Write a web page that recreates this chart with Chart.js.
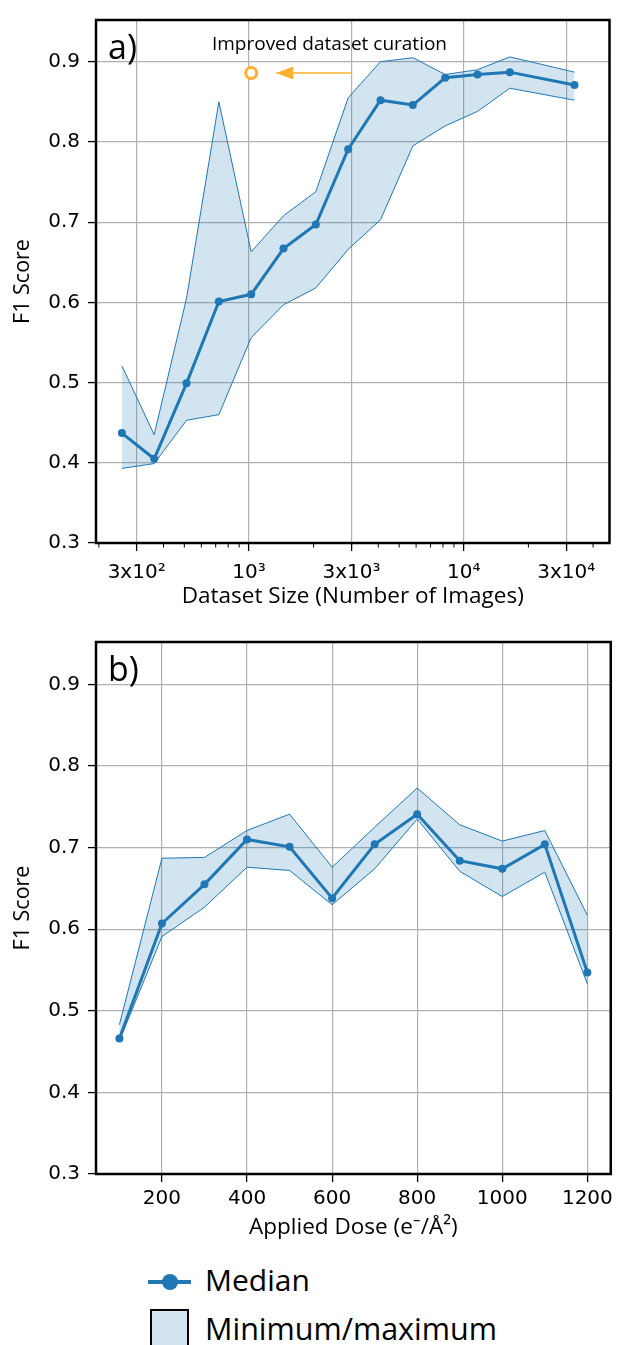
<!DOCTYPE html>
<html>
<head>
<meta charset="utf-8">
<script src="https://cdn.jsdelivr.net/npm/chart.js@4.4.0/dist/chart.umd.min.js"></script>
<style>
  html, body { margin: 0; padding: 0; background: #fff; overflow: hidden; }
  #wrap { position: relative; width: 618px; height: 1345px; }
  canvas { position: absolute; left: 0; }
  #c1 { top: 0; }
  #c2 { top: 620px; }
  .leg { position: absolute; font-family: "Open Sans"; font-size: 30px; line-height: 30px; color: #000; white-space: nowrap; }
</style>
</head>
<body>
<div id="wrap">
  <canvas id="c1" width="618" height="620"></canvas>
  <canvas id="c2" width="618" height="630"></canvas>

  <!-- legend -->
  <div style="position:absolute;left:148px;top:1280px;width:43px;height:4px;background:#1f77b4"></div>
  <div style="position:absolute;left:162px;top:1274px;width:16px;height:16px;border-radius:50%;background:#1f77b4"></div>
  <div class="leg" style="left:205px;top:1265px">Median</div>
  <div style="position:absolute;left:150px;top:1309px;width:35px;height:40px;border:2.5px solid #000;background:#d2e4f0"></div>
  <div class="leg" style="left:205px;top:1313px;font-size:30.5px">Minimum/maximum</div>
</div>
<script>
// a) dataset size
const sizes = [256, 362, 512, 724, 1024, 1448, 2048, 2896, 4096, 5793, 8192, 11585, 16384, 32768];
const sizeMedian = [0.437, 0.405, 0.499, 0.601, 0.610, 0.667, 0.697, 0.791, 0.852, 0.846, 0.880, 0.884, 0.887, 0.871];
const sizeMax = [0.521, 0.435, 0.605, 0.850, 0.663, 0.708, 0.738, 0.855, 0.900, 0.905, 0.884, 0.890, 0.906, 0.887];
const sizeMin = [0.393, 0.399, 0.453, 0.460, 0.556, 0.597, 0.618, 0.666, 0.703, 0.795, 0.820, 0.838, 0.867, 0.852];

// b) applied dose
const doses = [100, 200, 300, 400, 500, 600, 700, 800, 900, 1000, 1100, 1200];
const doseMedian = [0.466, 0.607, 0.655, 0.710, 0.701, 0.638, 0.704, 0.741, 0.684, 0.674, 0.704, 0.547];
const doseMax = [0.483, 0.687, 0.688, 0.721, 0.741, 0.676, 0.725, 0.773, 0.728, 0.708, 0.721, 0.617];
const doseMin = [0.463, 0.591, 0.627, 0.676, 0.672, 0.630, 0.674, 0.735, 0.671, 0.640, 0.670, 0.533];

// ticks
const yTicks = [0.3, 0.4, 0.5, 0.6, 0.7, 0.8, 0.9];
const sizeTicks = [300, 1000, 3000, 10000, 30000];
const sizeTickLabels = ["3x10\u00b2", "10\u00b3", "3x10\u00b3", "10\u2074", "3x10\u2074"];
const sizeMinorTicks = [200, 400, 500, 600, 700, 800, 900, 2000, 4000, 5000, 6000, 7000, 8000, 9000, 20000, 40000];
const doseTicks = [200, 400, 600, 800, 1000, 1200];

// annotation "Improved dataset curation"
const curationPoint = [{ x: 1024, y: 0.886 }];
const curationArrow = [{ x: 2980, y: 0.886 }, { x: 1340, y: 0.886 }];
const curationText = { x: 2370, y: 0.921, text: "Improved dataset curation" };

const blue = "#1f77b4";
const orange = "#fdb02f";
const band = "rgba(31,119,180,0.2)";
const gridCol = "#b0b0b0";

const pts = (xs, ys) => xs.map((x, i) => ({ x: x, y: ys[i] }));

function bandSets(xs, med, mx, mn) {
  return [
    { data: pts(xs, med), borderColor: blue, backgroundColor: blue, borderWidth: 3,
      pointRadius: 4, pointBorderWidth: 0, pointBackgroundColor: blue, fill: false },
    { data: pts(xs, mx), borderColor: blue, borderWidth: 1, pointRadius: 0,
      fill: "+1", backgroundColor: band },
    { data: pts(xs, mn), borderColor: blue, borderWidth: 1, pointRadius: 0, fill: false }
  ];
}

function yScale() {
  return {
    min: 0.3, max: 0.952,
    afterBuildTicks: s => { s.ticks = yTicks.map(v => ({ value: v })); },
    afterFit: s => { s.width = 96; },
    ticks: { font: { family: "DejaVu Sans", size: 20 }, color: "#000", padding: 8,
      callback: v => v.toFixed(1) },
    grid: { color: gridCol, lineWidth: 1.2, tickColor: "#000", tickLength: 8, tickWidth: 1.3 },
    border: { display: false },
    title: { display: true, text: "F1 Score", color: "#000",
      font: { family: "Open Sans", size: 21.5 }, padding: { top: 10, bottom: 0 } }
  };
}

// frame, panel letter and minor ticks
function framePlugin(letter, minor) {
  return {
    id: "frame",
    afterDraw(chart) {
      const { ctx, chartArea: a } = chart;
      ctx.save();
      if (minor) {
        const x = chart.scales.x;
        ctx.strokeStyle = "#000";
        ctx.lineWidth = 1;
        minor.forEach(v => {
          const px = x.getPixelForValue(v);
          if (px < a.left || px > a.right) return;
          ctx.beginPath();
          ctx.moveTo(px, a.bottom);
          ctx.lineTo(px, a.bottom + 4.5);
          ctx.stroke();
        });
      }
      ctx.strokeStyle = "#000";
      ctx.lineWidth = 2.5;
      ctx.strokeRect(a.left, a.top, a.right - a.left, a.bottom - a.top);
      ctx.fillStyle = "#000";
      ctx.font = "34px 'Open Sans'";
      ctx.textBaseline = "alphabetic";
      ctx.fillText(letter, a.left + 12, a.top + 39);
      ctx.restore();
    }
  };
}

const arrowPlugin = {
  id: "arrow",
  afterDatasetsDraw(chart) {
    const { ctx } = chart;
    const meta = chart.getDatasetMeta(4);
    const tip = meta.data[1];
    ctx.save();
    ctx.fillStyle = orange;
    ctx.beginPath();
    ctx.moveTo(tip.x, tip.y);
    ctx.lineTo(tip.x + 17, tip.y - 6.5);
    ctx.lineTo(tip.x + 17, tip.y + 6.5);
    ctx.closePath();
    ctx.fill();
    ctx.fillStyle = "#000";
    ctx.font = "19px 'Open Sans'";
    ctx.textAlign = "center";
    ctx.textBaseline = "middle";
    ctx.fillText(curationText.text, chart.scales.x.getPixelForValue(curationText.x),
      chart.scales.y.getPixelForValue(curationText.y));
    ctx.restore();
  }
};

const common = {
  responsive: false,
  animation: false,
  devicePixelRatio: 1,
  elements: { line: { tension: 0 } },
  plugins: { legend: { display: false }, tooltip: { enabled: false }, filler: { drawTime: "beforeDatasetsDraw" } }
};

// a) Dataset size
new Chart(document.getElementById("c1").getContext("2d"), {
  type: "line",
  data: {
    datasets: bandSets(sizes, sizeMedian, sizeMax, sizeMin).concat([
      { data: curationPoint, showLine: false, pointRadius: 5.5, pointBorderWidth: 3,
        pointBorderColor: orange, pointBackgroundColor: "#fff", fill: false },
      { data: curationArrow, borderColor: orange, borderWidth: 1.5, pointRadius: 0, fill: false }
    ])
  },
  options: Object.assign({}, common, {
    layout: { padding: { top: 14, right: 3, bottom: 0, left: 0 } },
    scales: {
      x: {
        type: "logarithmic", min: 194, max: 47700,
        afterBuildTicks: s => { s.ticks = sizeTicks.map(v => ({ value: v })); },
        afterFit: s => { s.height = 77; },
        ticks: { autoSkip: false, maxRotation: 0, font: { family: "DejaVu Sans", size: 20 }, color: "#000",
          padding: 10, callback: (v, i) => sizeTickLabels[i] },
        grid: { color: gridCol, lineWidth: 1.2, tickColor: "#000", tickLength: 8, tickWidth: 1.3 },
        border: { display: false },
        title: { display: true, text: "Dataset Size (Number of Images)", color: "#000",
          font: { family: "Open Sans", size: 22.5 }, padding: { top: 0, bottom: 10 } }
      },
      y: yScale()
    }
  }),
  plugins: [framePlugin("a)", sizeMinorTicks), arrowPlugin]
});

// b) Applied dose
new Chart(document.getElementById("c2").getContext("2d"), {
  type: "line",
  data: { datasets: bandSets(doses, doseMedian, doseMax, doseMin) },
  options: Object.assign({}, common, {
    layout: { padding: { top: 22, right: 3, bottom: 0, left: 0 } },
    scales: {
      x: {
        type: "linear", min: 45, max: 1255,
        afterBuildTicks: s => { s.ticks = doseTicks.map(v => ({ value: v })); },
        afterFit: s => { s.height = 76; },
        ticks: { autoSkip: false, maxRotation: 0, font: { family: "DejaVu Sans", size: 20 }, color: "#000",
          padding: 5, callback: v => String(v) },
        grid: { color: gridCol, lineWidth: 1.2, tickColor: "#000", tickLength: 8, tickWidth: 1.3 },
        border: { display: false },
        title: { display: true, text: "Applied Dose (e\u207b/\u00c5\u00b2)", color: "#000",
          font: { family: "Open Sans", size: 22.5 }, padding: { top: 0, bottom: 9 } }
      },
      y: yScale()
    }
  }),
  plugins: [framePlugin("b)", null)]
});
</script>
</body>
</html>
